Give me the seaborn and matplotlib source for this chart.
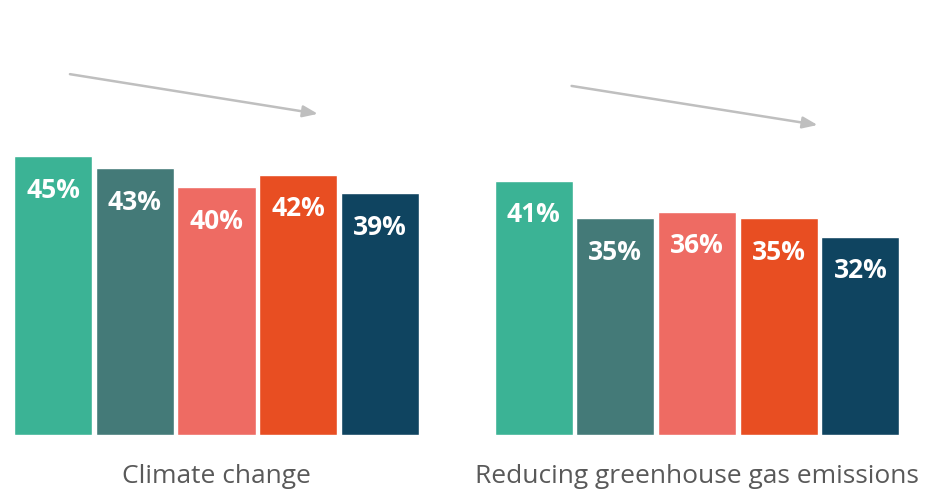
import pandas as pd
import seaborn as sns
import matplotlib.pyplot as plt

categories = ['Climate change', 'Reducing greenhouse gas emissions']
series = ['Wave 1', 'Wave 2', 'Wave 3', 'Wave 4', 'Wave 5']
values = {
    'Climate change': [45, 43, 40, 42, 39],
    'Reducing greenhouse gas emissions': [41, 35, 36, 35, 32],
}
colors = ['#3BB395', '#447A78', '#EE6B63', '#E84E22', '#0F4460']

rows = []
for cat in categories:
    for s, v in zip(series, values[cat]):
        rows.append({'category': cat, 'series': s, 'value': v})
df = pd.DataFrame(rows)

sns.set_style('white')
plt.rcParams['font.family'] = ['Open Sans', 'DejaVu Sans']

fig = plt.figure(figsize=(9.32, 4.92), dpi=100)
ax = fig.add_axes([0, 57 / 492, 1, 435 / 492])

sns.barplot(data=df, x='category', y='value', hue='series', order=categories,
            hue_order=series, palette=colors, width=0.85, gap=0.045,
            legend=False, ax=ax, saturation=1)

for cont in ax.containers:
    for bar in cont:
        h = bar.get_height()
        ax.text(bar.get_x() + bar.get_width() / 2, h - 5.5, f'{h:.0f}%',
                ha='center', va='center', color='white', fontsize=19,
                fontweight='bold')

ax.set_xlim(-216.5 / 480.5, 1 + 235 / 480.5)
ax.set_ylim(0, 435 / 6.2)
sns.despine(ax=ax, left=True, bottom=True)
ax.set_yticks([])
ax.set_xlabel('')
ax.set_ylabel('')
ax.tick_params(axis='x', length=0, pad=21, labelsize=19, labelcolor='#595959')

# trend arrows
arrow = dict(arrowstyle='-|>,head_length=0.9,head_width=0.35', color='#BFBFBF', lw=1.8,
             shrinkA=0, shrinkB=0)
ax.annotate('', xy=(0.211, 51.8), xytext=(-0.305, 58.2), arrowprops=arrow)
ax.annotate('', xy=(1.251, 50.0), xytext=(0.739, 56.3), arrowprops=arrow)

plt.savefig('out.png', dpi=100)
